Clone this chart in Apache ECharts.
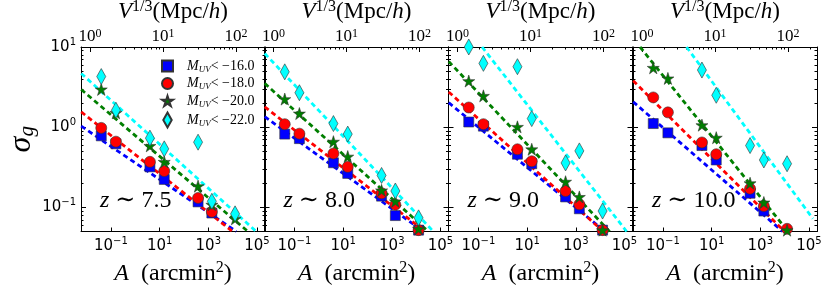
<!DOCTYPE html>
<html><head><meta charset="utf-8">
<script src="https://cdn.jsdelivr.net/npm/echarts@6/dist/echarts.min.js"></script>
<style>html,body{margin:0;padding:0;background:#fff}#c{width:831px;height:291px}</style>
</head><body><div id="c"></div>
<script>
// ---------------- data ----------------
const areas = [0.04, 0.16, 4.0, 15.5, 380, 1400, 12600];           // A (arcmin^2)
const redshiftLabels = ['7.5', '8.0', '9.0', '10.0'];
const magCuts = ['−16.0', '−18.0', '−20.0', '−22.0'];
// sigma_g per panel (z~7.5, 8.0, 9.0, 10.0)
const sigmaM16 = [
  [0.78, 0.62, 0.32, 0.223, 0.117, 0.085, 0.048],
  [0.82, 0.72, 0.36, 0.265, 0.138, 0.079, 0.052],
  [1.16, 1.03, 0.46, 0.35, 0.135, 0.096, 0.052],
  [1.11, 0.85, 0.59, 0.39, 0.15, 0.09, 0.048]
];
const sigmaM18 = [
  [0.98, 0.66, 0.37, 0.284, 0.131, 0.088, 0.046],
  [1.09, 0.83, 0.47, 0.32, 0.15, 0.108, 0.052],
  [1.76, 1.09, 0.53, 0.376, 0.16, 0.109, 0.052],
  [2.35, 1.53, 0.645, 0.46, 0.171, 0.104, 0.054]
];
const sigmaM20 = [
  [2.96, 1.51, 0.585, 0.37, 0.184, 0.108, 0.072],
  [2.24, 1.48, 0.66, 0.43, 0.163, 0.119, 0.054],
  [3.76, 2.46, 1.01, 0.53, 0.209, 0.135, 0.052],
  [5.5, 4.06, 1.06, 0.74, 0.2, 0.115, 0.052]
];
const sigmaM22 = [
  [4.28, 1.63, 0.73, 0.537, 0.65, 0.119, 0.083],
  [4.9, 2.69, 1.11, 0.82, 0.25, 0.16, 0.074],
  [10, 6.25, 5.68, 1.28, 0.358, 0.506, 0.09],
  [30, 18, 5.16, 2.5, 0.59, 0.39, 0.35]
];
// power-law fit lines: two end points [A, sigma] per panel
const fitM16 = [
  [[0.006, 1.03], [14100, 0.05]],
  [[0.006, 1.35], [20000, 0.05]],
  [[0.006, 2.02], [15800, 0.05]],
  [[0.006, 2.07], [8300, 0.05]]
];
const fitM18 = [
  [[0.006, 1.55], [10000, 0.05]],
  [[0.006, 1.79], [23400, 0.05]],
  [[0.006, 2.75], [13500, 0.05]],
  [[0.006, 3.8], [10000, 0.05]]
];
const fitM20 = [
  [[0.006, 2.95], [42700, 0.05]],
  [[0.006, 3.52], [31600, 0.05]],
  [[0.006, 6.6], [24500, 0.05]],
  [[0.0115, 10], [13800, 0.05]]
];
const fitM22 = [
  [[0.006, 4.68], [93300, 0.05]],
  [[0.006, 8.3], [51300, 0.05]],
  [[0.141, 10], [123000, 0.05]],
  [[0.933, 10], [144500, 0.0724]]
];
const areaTicks = [0.1, 10, 1000, 100000];
const volTicks = [1, 10, 100];
const volMinorTicks = [2, 3, 4, 5, 6, 7, 8, 9, 20, 30, 40, 50, 60, 70, 80, 90, 200];
const sigmaTicks = [0.1, 1, 10];
const sigmaMinorTicks = [0.06, 0.07, 0.08, 0.09, 0.2, 0.3, 0.4, 0.5, 0.6, 0.7, 0.8, 0.9, 2, 3, 4, 5, 6, 7, 8, 9];
const areaMin = Math.pow(10, -2.23), areaMax = Math.pow(10, 5.33);
const volMin = Math.pow(10, -0.123), volMax = Math.pow(10, 2.397);
const sigmaMin = 0.05, sigmaMax = 10;

// ---------------- styling ----------------
const SERIF = "'Liberation Serif', 'DejaVu Serif', serif";
const SANS = "'DejaVu Sans', sans-serif";
const names = ['M16', 'M18', 'M20', 'M22'];
const colors = ['#0000ff', '#ff0000', '#007f00', '#00ffff'];
const STAR = 'path://M0,-1L0.2245,-0.309L0.951,-0.309L0.363,0.118L0.588,0.809L0,0.382L-0.588,0.809L-0.363,0.118L-0.951,-0.309L-0.2245,-0.309Z';
const SQUARE = 'path://M0,0L10,0L10,10L0,10Z';
const DIAMOND = 'path://M4.5,0L9,8L4.5,16L0,8Z';
const symbols = [SQUARE, 'circle', STAR, DIAMOND];
const symbolSizes = [10, 11, 12, [9, 16]];
const sigmas = [sigmaM16, sigmaM18, sigmaM20, sigmaM22];
const fits = [fitM16, fitM18, fitM20, fitM22];

const gridLefts = [81, 264.5, 448.5, 633];
const gridW = 184, gridTop = 47, gridH = 184.5;

function supLabel(v) {
  const e = Math.round(Math.log10(v));
  return '{b|10}{s|' + (e < 0 ? '−' + (-e) : e) + '}';
}
const sansRich = {
  b: { fontFamily: SANS, fontSize: 15, lineHeight: 20, color: '#000' },
  s: { fontFamily: SANS, fontSize: 10, lineHeight: 10, verticalAlign: 'top', color: '#000' }
};
const serifRich = {
  b: { fontFamily: SERIF, fontSize: 17, lineHeight: 17, color: '#000' },
  s: { fontFamily: SERIF, fontSize: 12, lineHeight: 8, verticalAlign: 'top', color: '#000' }
};
const axisLineStyle = { show: true, onZero: false, lineStyle: { color: '#000', width: 1 } };

const grids = [], xAxes = [], yAxes = [], series = [], graphics = [];
for (let i = 0; i < 4; i++) {
  grids.push({ left: gridLefts[i], top: gridTop, width: gridW, height: gridH, containLabel: false, outerBoundsMode: 'none' });
  // bottom A axis
  xAxes.push({
    type: 'log', logBase: 10, gridIndex: i, position: 'bottom', min: areaMin, max: areaMax,
    axisLine: axisLineStyle,
    axisTick: { show: true, inside: true, length: 4, customValues: areaTicks, lineStyle: { color: '#000' } },
    axisLabel: { show: true, customValues: areaTicks, margin: 5, formatter: supLabel, rich: sansRich },
    splitLine: { show: false },
    name: '{i|A}{r|  (arcmin}{s|2}{r|)}', nameLocation: 'middle', nameGap: 28,
    nameTextStyle: {
      color: '#000',
      rich: {
        i: { fontFamily: SERIF, fontStyle: 'italic', fontSize: 24, lineHeight: 28, color: '#000' },
        r: { fontFamily: SERIF, fontSize: 24, lineHeight: 28, color: '#000' },
        s: { fontFamily: SERIF, fontSize: 16, lineHeight: 14, verticalAlign: 'top', color: '#000' }
      }
    }
  });
  // top V axis (major)
  xAxes.push({
    type: 'log', logBase: 10, gridIndex: i, position: 'top', min: volMin, max: volMax,
    axisLine: axisLineStyle,
    axisTick: { show: true, inside: true, length: 5, customValues: volTicks, lineStyle: { color: '#000' } },
    axisLabel: { show: true, customValues: volTicks, margin: 2, formatter: supLabel, rich: serifRich },
    splitLine: { show: false },
    name: '{i|V}{s|1/3}{r|(Mpc/}{i|h}{r|)}', nameLocation: 'middle', nameGap: 17,
    nameTextStyle: {
      color: '#000',
      rich: {
        i: { fontFamily: SERIF, fontStyle: 'italic', fontSize: 23, lineHeight: 26, color: '#000' },
        r: { fontFamily: SERIF, fontSize: 23, lineHeight: 26, color: '#000' },
        s: { fontFamily: SERIF, fontSize: 16, lineHeight: 14, verticalAlign: 'top', color: '#000' }
      }
    }
  });
  // top V axis (minor ticks)
  xAxes.push({
    type: 'log', logBase: 10, gridIndex: i, position: 'top', min: volMin, max: volMax,
    axisLine: { show: false },
    axisTick: { show: true, inside: true, length: 2.5, customValues: volMinorTicks, lineStyle: { color: '#000' } },
    axisLabel: { show: false }, splitLine: { show: false }
  });
  // left y (major)
  yAxes.push({
    type: 'log', logBase: 10, gridIndex: i, position: 'left', min: sigmaMin, max: sigmaMax,
    axisLine: axisLineStyle,
    axisTick: { show: true, inside: true, length: 5, customValues: sigmaTicks, lineStyle: { color: '#000' } },
    axisLabel: { show: i === 0, customValues: sigmaTicks, margin: 5, formatter: supLabel, rich: sansRich },
    splitLine: { show: false },
    name: i === 0 ? '{s|σ}{g|g}' : '', nameLocation: 'middle', nameRotate: 90, nameGap: 42,
    nameTextStyle: {
      color: '#000',
      rich: {
        s: { fontFamily: SERIF, fontStyle: 'italic', fontSize: 32, lineHeight: 34, color: '#000' },
        g: { fontFamily: SERIF, fontStyle: 'italic', fontSize: 21, lineHeight: 14, verticalAlign: 'bottom', color: '#000' }
      }
    }
  });
  // left y (minor)
  yAxes.push({
    type: 'log', logBase: 10, gridIndex: i, position: 'left', min: sigmaMin, max: sigmaMax,
    axisLine: { show: false },
    axisTick: { show: true, inside: true, length: 2.5, customValues: sigmaMinorTicks, lineStyle: { color: '#000' } },
    axisLabel: { show: false }, splitLine: { show: false }
  });
  // right y (major)
  yAxes.push({
    type: 'log', logBase: 10, gridIndex: i, position: 'right', min: sigmaMin, max: sigmaMax,
    axisLine: axisLineStyle,
    axisTick: { show: true, inside: true, length: 5, customValues: sigmaTicks, lineStyle: { color: '#000' } },
    axisLabel: { show: false }, splitLine: { show: false }
  });
  // right y (minor)
  yAxes.push({
    type: 'log', logBase: 10, gridIndex: i, position: 'right', min: sigmaMin, max: sigmaMax,
    axisLine: { show: false },
    axisTick: { show: true, inside: true, length: 2.5, customValues: sigmaMinorTicks, lineStyle: { color: '#000' } },
    axisLabel: { show: false }, splitLine: { show: false }
  });

  for (let k = 0; k < 4; k++) {
    series.push({
      type: 'line', xAxisIndex: 3 * i, yAxisIndex: 4 * i, data: fits[k][i],
      symbol: 'none', showSymbol: false, silent: true, clip: true, z: 2,
      lineStyle: { color: colors[k], width: 2.8, type: [5, 3.5] }
    });
  }
  for (let k = 0; k < 4; k++) {
    series.push({
      type: 'scatter', name: names[k], xAxisIndex: 3 * i, yAxisIndex: 4 * i,
      data: areas.map((a, j) => [a, sigmas[k][i][j]]),
      symbol: symbols[k], symbolSize: symbolSizes[k], clip: true, z: 3,
      itemStyle: { color: colors[k], borderColor: '#333', borderWidth: 0.6, opacity: 1 }
    });
  }
  graphics.push({
    type: 'text', left: gridLefts[i] + 19, top: 189, z: 10,
    style: {
      text: '{i|z}{r| ∼ ' + redshiftLabels[i] + '}',
      rich: {
        i: { fontFamily: SERIF, fontStyle: 'italic', fontSize: 24, fill: '#000' },
        r: { fontFamily: SERIF, fontSize: 24, fill: '#000' }
      }
    }
  });
}

const chart = echarts.init(document.getElementById('c'), null, { renderer: 'canvas' });
chart.setOption({
  animation: false,
  backgroundColor: '#fff',
  grid: grids,
  xAxis: xAxes,
  yAxis: yAxes,
  series: series,
  graphic: graphics,
  legend: {
    data: names.map((n, k) => ({ name: n, icon: symbols[k] })),
    orient: 'vertical', left: 156, top: 54, itemWidth: 11, itemHeight: 15, itemGap: 2.5,
    selectedMode: false,
    formatter: function (n) { return '{g| }{m|M}{u|UV}{t|< ' + magCuts[names.indexOf(n)] + '}'; },
    textStyle: {
      fontSize: 13, fontFamily: SERIF, color: '#000',
      rich: {
        g: { width: 9, fontSize: 12, lineHeight: 16 },
        m: { fontFamily: SERIF, fontStyle: 'italic', fontSize: 14, lineHeight: 16, color: '#000' },
        u: { fontFamily: SERIF, fontStyle: 'italic', fontSize: 9, lineHeight: 10, verticalAlign: 'bottom', color: '#000' },
        t: { fontFamily: SERIF, fontSize: 14, lineHeight: 16, color: '#000' }
      }
    }
  }
});
</script></body></html>
